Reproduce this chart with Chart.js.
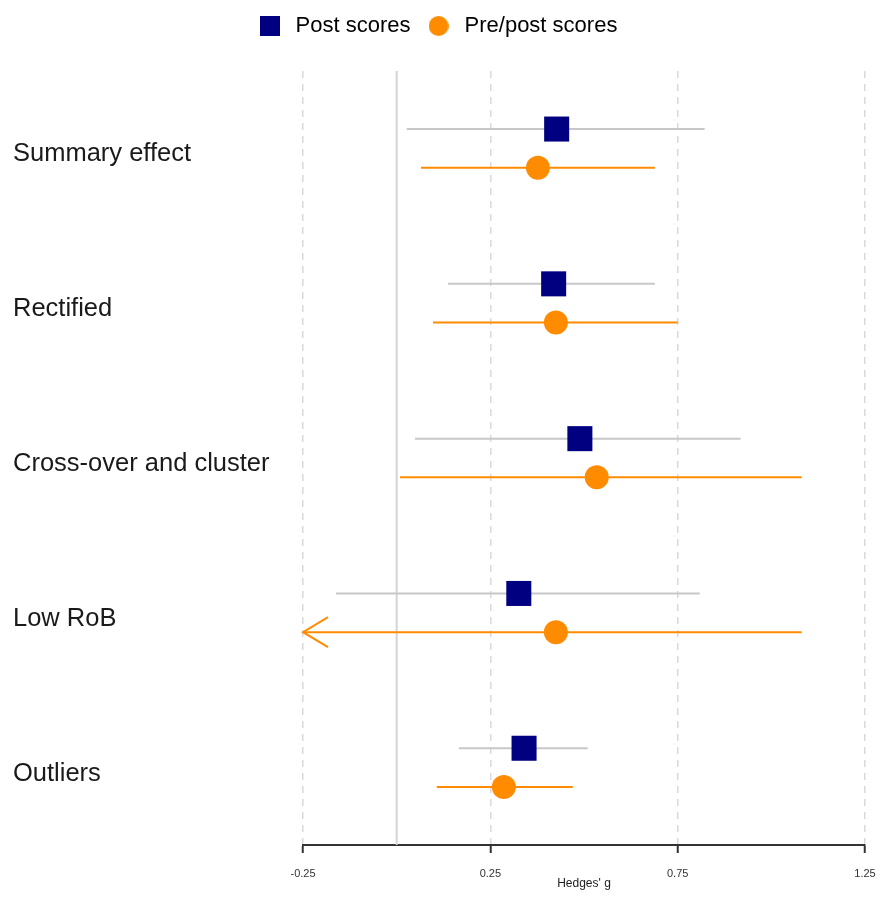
<!DOCTYPE html>
<html>
<head>
<meta charset="utf-8">
<script src="https://cdn.jsdelivr.net/npm/chart.js@4"></script>
<style>
html,body{margin:0;padding:0;background:#fff;}
#wrap{width:879px;height:898px;}
</style>
</head>
<body>
<div id="wrap"><canvas id="c" width="879" height="898"></canvas></div>
<script>
const categories = ['Summary effect', 'Rectified', 'Cross-over and cluster', 'Low RoB', 'Outliers'];
const postEst = [0.427, 0.419, 0.489, 0.326, 0.340];
const postLo  = [0.027, 0.137, 0.049, -0.162, 0.166];
const postHi  = [0.822, 0.689, 0.918, 0.809, 0.510];
const preEst  = [0.377, 0.425, 0.534, 0.425, 0.286];
const preLo   = [0.065, 0.097, 0.009, -0.300, 0.107];
const preHi   = [0.689, 0.750, 1.081, 1.081, 0.470];
const xTicks  = [-0.25, 0.25, 0.75, 1.25];
const seriesNames = ['Post scores', 'Pre/post scores'];

const NAVY = '#000080', ORANGE = '#FF8C00', GREYCI = '#C8C8C8';
const OFF = 0.125;

function mk(w, h, fn){ const c = document.createElement('canvas'); c.width = w; c.height = h; fn(c.getContext('2d')); return c; }
const sqImg = mk(20, 20, g => { g.fillStyle = NAVY; g.fillRect(0, 0, 20, 20); });
const ciImg = mk(20, 20, g => { g.fillStyle = ORANGE; g.beginPath(); g.arc(10, 10, 10, 0, Math.PI * 2); g.fill(); });

const datasets = [];
datasets.push({
  type: 'scatter', label: seriesNames[0], order: 0,
  data: postEst.map((v, i) => ({x: v, y: i - OFF})),
  pointStyle: 'rect', pointRadius: 17.7, pointHoverRadius: 17.7,
  backgroundColor: NAVY, borderColor: NAVY, borderWidth: 0
});
datasets.push({
  type: 'scatter', label: seriesNames[1], order: 0,
  data: preEst.map((v, i) => ({x: v, y: i + OFF})),
  pointStyle: 'circle', pointRadius: 12, pointHoverRadius: 12,
  backgroundColor: ORANGE, borderColor: ORANGE, borderWidth: 0
});
categories.forEach((c, i) => {
  datasets.push({ type: 'line', label: 'ci-post', order: 1,
    data: [{x: postLo[i], y: i - OFF}, {x: postHi[i], y: i - OFF}],
    borderColor: GREYCI, borderWidth: 2, pointRadius: 0, showLine: true });
  datasets.push({ type: 'line', label: 'ci-pre', order: 1,
    data: [{x: preLo[i], y: i + OFF}, {x: preHi[i], y: i + OFF}],
    borderColor: ORANGE, borderWidth: 2, pointRadius: 0, showLine: true });
});
datasets.push({ type: 'line', label: 'zero', order: 2,
  data: [{x: 0, y: -0.5}, {x: 0, y: categories.length - 0.5}],
  borderColor: '#D4D4D4', borderWidth: 2, pointRadius: 0, showLine: true });

const arrowPlugin = {
  id: 'arrows',
  afterDatasetsDraw(chart) {
    const xs = chart.scales.x, ys = chart.scales.y, ctx = chart.ctx;
    const draw = (lo, off, col) => {
      lo.forEach((v, i) => {
        if (v < xs.min) {
          const x0 = xs.getPixelForValue(xs.min), y = ys.getPixelForValue(i + off);
          ctx.save(); ctx.strokeStyle = col; ctx.lineWidth = 2;
          ctx.beginPath();
          ctx.moveTo(x0 + 25, y - 15); ctx.lineTo(x0, y); ctx.lineTo(x0 + 25, y + 15);
          ctx.stroke(); ctx.restore();
        }
      });
    };
    draw(postLo, -OFF, GREYCI);
    draw(preLo, OFF, ORANGE);
  }
};

const legendSpace = {
  id: 'legendSpace',
  beforeInit(chart) {
    const lg = chart.legend;
    const orig = lg.fit, origDraw = lg.draw;
    lg.fit = function() { orig.bind(lg)(); this.height += 24; };
    lg.draw = function() { const c = chart.ctx; c.save(); c.translate(-3, 0); origDraw.apply(lg, arguments); c.restore(); };
  }
};

Chart.defaults.font.family = '"Liberation Sans", Arial, sans-serif';
Chart.defaults.color = '#222';

new Chart(document.getElementById('c'), {
  type: 'scatter',
  data: { datasets },
  plugins: [arrowPlugin, legendSpace],
  options: {
    responsive: false, animation: false,
    layout: { autoPadding: false, padding: { left: 13, right: 14, top: 2, bottom: 8 } },
    plugins: {
      tooltip: { enabled: false },
      legend: {
        position: 'top', align: 'center',
        labels: {
          usePointStyle: true, pointStyleWidth: 30, padding: 13,
          font: { size: 22 }, color: '#222',
          generateLabels: () => [
            { text: seriesNames[0], pointStyle: sqImg, datasetIndex: 0, hidden: false, lineWidth: 0, fillStyle: NAVY, strokeStyle: NAVY },
            { text: seriesNames[1], pointStyle: ciImg, datasetIndex: 1, hidden: false, lineWidth: 0, fillStyle: ORANGE, strokeStyle: ORANGE }
          ]
        }
      }
    },
    scales: {
      x: {
        type: 'linear', position: 'bottom',
        min: xTicks[0], max: xTicks[xTicks.length - 1],
        afterBuildTicks: s => { s.ticks = xTicks.map(v => ({ value: v })); },
        afterFit: s => { s.paddingLeft = 0; s.paddingRight = 0; },
        ticks: { padding: 15, font: { size: 11, lineHeight: 1 }, color: '#333',
          callback: v => String(v) },
        grid: { color: '#D9D9D9', lineWidth: 1.5, tickLength: 8, tickColor: '#333', tickWidth: 2, tickBorderDash: [] },
        border: { display: true, color: '#333', width: 2, dash: [7, 6] },
        title: { display: true, text: "Hedges' g", font: { size: 12, lineHeight: 1 }, color: '#222', padding: { top: -16, bottom: 0 } }
      },
      y: {
        type: 'linear', position: 'left', reverse: true,
        min: -0.5, max: categories.length - 0.5,
        afterBuildTicks: s => { s.ticks = categories.map((c, i) => ({ value: i })); },
        afterFit: s => { s.width = 290; },
        ticks: { crossAlign: 'far', labelOffset: 6, font: { size: 25.5 }, color: '#1a1a1a', callback: v => categories[v] },
        grid: { display: false },
        border: { display: false }
      }
    }
  }
});
</script>
</body>
</html>
